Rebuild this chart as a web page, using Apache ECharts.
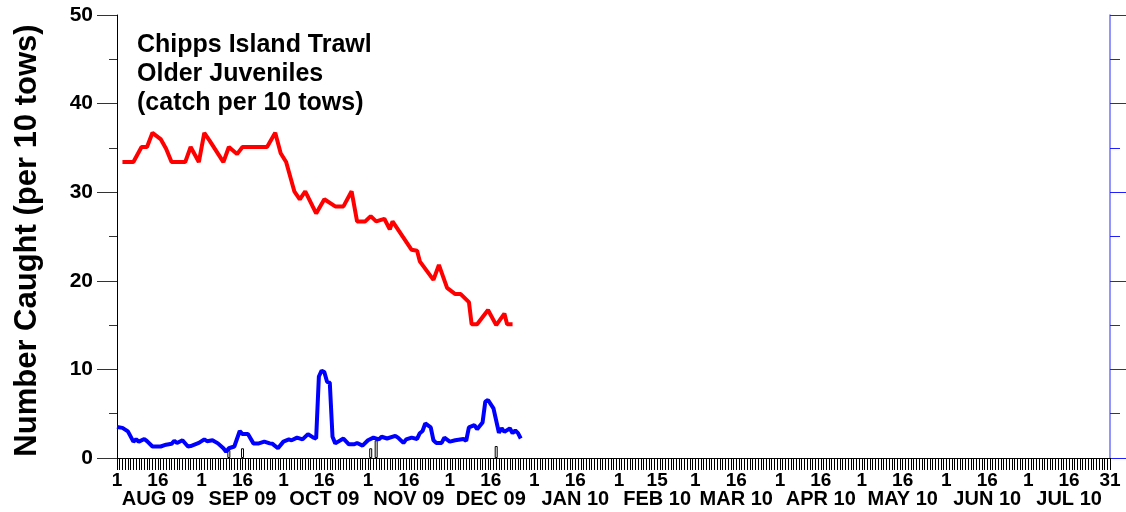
<!DOCTYPE html>
<html>
<head>
<meta charset="utf-8">
<script src="https://cdn.jsdelivr.net/npm/echarts@6/dist/echarts.min.js"></script>
<style>
  html, body { margin: 0; padding: 0; background: #fff; }
  #chart { width: 1126px; height: 512px; }
</style>
</head>
<body>
<div id="chart"></div>
<script>
// x is day index from 1 Aug 2009 (0) to 31 Jul 2010 (364)
const monthNames = ['AUG 09', 'SEP 09', 'OCT 09', 'NOV 09', 'DEC 09', 'JAN 10',
  'FEB 10', 'MAR 10', 'APR 10', 'MAY 10', 'JUN 10', 'JUL 10'];
const monthLengths = [31, 30, 31, 30, 31, 31, 28, 31, 30, 31, 30, 31];
const midDayLabels = ['16', '16', '16', '16', '16', '16', '15', '16', '16', '16', '16', '16'];

const redDays = [2, 6, 9, 11, 13, 16, 18, 20, 25, 27, 30, 32, 34, 39, 41, 44, 46, 55, 58, 60,
  62, 65, 67, 69, 73, 76, 80, 83, 86, 88, 91, 93, 95, 98, 100, 101, 108, 110, 111, 116,
  118, 121, 124, 126, 129, 130, 132, 136, 139, 142, 143, 145];
const redVals = [33.4, 33.4, 35.1, 35.1, 36.7, 36.0, 34.9, 33.4, 33.4, 35.1, 33.4, 36.7, 35.8, 33.4, 35.1, 34.3, 35.1, 35.1, 36.7, 34.4,
  33.4, 30.1, 29.2, 30.1, 27.6, 29.2, 28.4, 28.4, 30.1, 26.7, 26.7, 27.3, 26.7, 27.0, 25.8, 26.7, 23.5, 23.4, 22.2, 20.1,
  21.8, 19.2, 18.5, 18.5, 17.6, 15.1, 15.1, 16.7, 15.0, 16.3, 15.1, 15.1];

const blueDays = [0, 2, 4, 6, 7, 8, 10, 11, 13, 16, 18, 20, 21, 22, 24, 26, 27, 30, 32, 33,
  35, 37, 39, 40, 41, 43, 45, 46, 48, 50, 52, 54, 56, 57, 59, 61, 63, 64, 66, 68,
  70, 72, 73, 74, 75, 76, 77, 78, 79, 80, 83, 85, 87, 88, 90, 92, 94, 96, 97, 99,
  102, 103, 105, 106, 108, 110, 111, 112, 113, 115, 116, 117, 119, 120, 122, 124, 127, 128, 129, 131,
  132, 134, 135, 136, 138, 140, 141, 142, 144, 145, 146, 147, 148];
const blueVals = [3.5, 3.4, 3.0, 1.85, 2.1, 1.85, 2.15, 1.9, 1.3, 1.3, 1.5, 1.6, 1.95, 1.7, 2.0, 1.3, 1.35, 1.7, 2.1, 1.9,
  2.0, 1.65, 1.1, 0.7, 1.1, 1.3, 3.05, 2.7, 2.7, 1.65, 1.65, 1.85, 1.65, 1.6, 1.1, 1.85, 2.1, 2.0, 2.3, 2.1,
  2.7, 2.3, 2.2, 9.2, 9.85, 9.7, 8.6, 8.5, 2.4, 1.65, 2.2, 1.55, 1.55, 1.7, 1.4, 2.0, 2.3, 2.1, 2.4, 2.2,
  2.5, 2.3, 1.7, 2.1, 2.3, 2.15, 2.8, 3.05, 3.9, 3.45, 2.0, 1.7, 1.7, 2.3, 1.85, 2.0, 2.15, 1.95, 3.45, 3.7,
  3.25, 4.0, 6.35, 6.55, 5.6, 2.85, 3.35, 2.95, 3.35, 2.8, 3.1, 2.8, 2.2];

const barDays = [41, 46, 93, 95, 139];
const barVals = [0.9, 1.1, 1.1, 2.0, 1.35];

const yTicks = { min: 0, max: 50, interval: 10 };

// day-index -> tick label
const dayLabels = {};
let start = 0;
monthNames.forEach((name, i) => {
  dayLabels[start] = '{d|1}';
  dayLabels[start + Number(midDayLabels[i]) - 1] = '{d|' + midDayLabels[i] + '}\n{m|' + name + '}';
  start += monthLengths[i];
});
dayLabels[start - 1] = '{d|31}';

const pairs = (xs, ys) => xs.map((x, i) => [x, ys[i]]);
const FONT = 'Liberation Sans, Arial, sans-serif';

const chart = echarts.init(document.getElementById('chart'), null, { renderer: 'canvas' });
chart.setOption({
  animation: false,
  backgroundColor: '#fff',
  title: {
    text: 'Chipps Island Trawl\nOlder Juveniles\n(catch per 10 tows)',
    left: 132,
    top: 26,
    textStyle: { fontFamily: FONT, fontSize: 25, fontWeight: 'bold', color: '#000', lineHeight: 29 }
  },
  grid: { left: 117, right: 16, top: 15, bottom: 54, containLabel: false, outerBoundsMode: 'none' },
  xAxis: {
    type: 'value',
    min: 0,
    max: 364,
    interval: 1,
    splitLine: { show: false },
    axisLine: { show: true, lineStyle: { color: '#000', width: 1 } },
    axisTick: { show: true, length: 12, lineStyle: { color: '#000', width: 1 } },
    axisLabel: {
      show: true,
      margin: 13,
      formatter: v => dayLabels[v] || '',
      rich: {
        d: { fontFamily: FONT, fontSize: 19, fontWeight: 'bold', color: '#000', lineHeight: 19 },
        m: { fontFamily: FONT, fontSize: 20, fontWeight: 'bold', color: '#000', lineHeight: 18 }
      }
    }
  },
  yAxis: [
    {
      type: 'value',
      position: 'left',
      ...yTicks,
      name: 'Number Caught (per 10 tows)',
      nameLocation: 'middle',
      nameGap: 74,
      nameTextStyle: { fontFamily: FONT, fontSize: 31, fontWeight: 'bold', color: '#000', padding: [0, 8, 0, 0] },
      splitLine: { show: false },
      axisLine: { show: true, lineStyle: { color: '#000', width: 1 } },
      axisTick: { show: true, length: 20, lineStyle: { color: '#333' } },
      minorTick: { show: true, splitNumber: 2, length: 8, lineStyle: { color: '#333' } },
      axisLabel: { fontFamily: FONT, fontSize: 21, fontWeight: 'bold', color: '#000', margin: 24 }
    },
    {
      type: 'value',
      position: 'right',
      ...yTicks,
      splitLine: { show: false },
      axisLine: { show: true, lineStyle: { color: '#7070ff', width: 1.5 } },
      axisTick: { show: true, length: 16, lineStyle: { color: '#2020ff' } },
      minorTick: { show: true, splitNumber: 2, length: 10, lineStyle: { color: '#2020ff' } },
      axisLabel: { show: false }
    }
  ],
  series: [
    {
      type: 'line',
      data: pairs(redDays, redVals),
      symbol: 'none',
      lineStyle: { color: '#ff0000', width: 4 },
      itemStyle: { color: '#ff0000' }
    },
    {
      type: 'line',
      data: pairs(blueDays, blueVals),
      symbol: 'none',
      lineStyle: { color: '#0000ff', width: 4 },
      itemStyle: { color: '#0000ff' }
    },
    {
      type: 'bar',
      data: pairs(barDays, barVals),
      barWidth: 3,
      itemStyle: { color: '#fff', borderColor: '#000', borderWidth: 1 }
    }
  ]
});
</script>
</body>
</html>
